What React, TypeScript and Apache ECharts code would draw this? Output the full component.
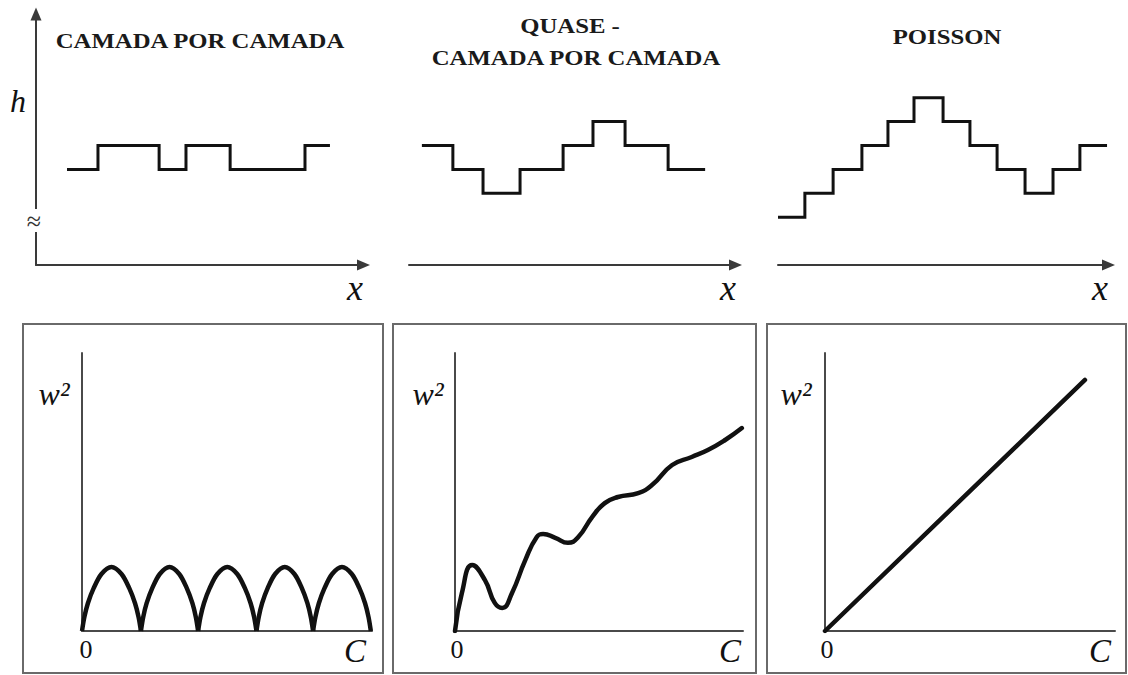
import React, { useEffect, useRef } from "react";
import * as echarts from "echarts";

// ---------- data ----------
const panelTitles = ["CAMADA POR CAMADA", "QUASE -", "CAMADA POR CAMADA", "POISSON"];
const topAxisNames = { height: "h", position: "x" };
const bottomAxisNames = { roughness: "w²", coverage: "C", origin: "0" };

// surface profiles: [x position (lattice units), height level]
const layerByLayerSteps = [
  [1.13, 2], [2.26, 3], [4.49, 2], [5.47, 3], [7.08, 2], [9.81, 3], [10.72, 3],
];
const quasiLayerSteps = [
  [0.47, 3], [1.6, 2], [2.7, 1], [4.05, 2], [5.62, 3], [6.71, 4], [7.88, 3], [9.45, 2], [10.8, 2],
];
const poissonSteps = [
  [0, 0], [0.98, 1], [2.01, 2], [3.06, 3], [4.01, 4], [4.96, 5], [6.02, 4],
  [7.0, 3], [7.99, 2], [9.01, 1], [10.03, 2], [11.01, 3], [12.0, 3],
];

// roughness w² vs coverage C
const archBounds = [0, 1.02, 2.01, 3.02, 4.0, 5.0];
const archProfile = [
  [0, 0], [0.04, 0.5], [0.1, 1.0], [0.2, 1.55], [0.33, 2.05], [0.5, 2.3],
  [0.67, 2.05], [0.8, 1.55], [0.9, 1.0], [0.96, 0.5], [1, 0],
];
const quasiRoughness = [
  [0, 0], [0.12, 1.37], [0.3, 2.37], [0.52, 1.83], [0.69, 1.01], [0.82, 0.83], [0.99, 1.37],
  [1.22, 2.55], [1.42, 3.38], [1.53, 3.49], [1.74, 3.35], [1.96, 3.17], [2.14, 3.38],
  [2.38, 4.1], [2.6, 4.6], [2.83, 4.82], [3.18, 4.96], [3.42, 5.25], [3.77, 5.97],
  [4.11, 6.26], [4.39, 6.51], [4.69, 6.87], [4.98, 7.3],
];
const poissonRoughness = [[0, 0], [4.5, 9.03]];

// ---------- layout / style ----------
const STEP_UNIT_PX = 27.42;
const LINE = "#111111";
const AXIS = "#3a3a3a";
const SERIF = '"Liberation Serif", "Times New Roman", serif';

const topGrids = [
  { left: 36, top: 14, width: 327.5, height: 251 },
  { left: 409, top: 14, width: 326.5, height: 251 },
  { left: 778, top: 14, width: 330.5, height: 251 },
];
const bottomGrids = [
  { left: 82, top: 353, width: 290, height: 278 },
  { left: 455, top: 353, width: 288, height: 278 },
  { left: 825, top: 353, width: 290, height: 278 },
];
const bottomXMax = [5.02, 5.0, 5.02];
const boxes = [
  { x: 23, y: 324, width: 360, height: 349 },
  { x: 393, y: 324, width: 363, height: 349 },
  { x: 767, y: 324, width: 359, height: 349 },
];

function txt(text: string, x: number, y: number, size: number, opts: any = {}) {
  return {
    type: "text",
    x,
    y,
    z: 20,
    scaleX: opts.scaleX ?? 1,
    silent: true,
    style: {
      text,
      fill: opts.fill ?? LINE,
      fontSize: size,
      fontFamily: opts.family ?? SERIF,
      fontStyle: opts.italic ? "italic" : "normal",
      fontWeight: opts.bold ? "bold" : "normal",
      align: opts.align ?? "center",
      verticalAlign: "middle",
      textAlign: opts.align ?? "center",
      textVerticalAlign: "middle",
    },
  };
}

function buildOption() {
  const grid: any[] = [];
  const xAxis: any[] = [];
  const yAxis: any[] = [];
  const series: any[] = [];

  const arrowLine = {
    show: true,
    onZero: false,
    symbol: ["none", "triangle"],
    symbolSize: [11, 13],
    lineStyle: { color: AXIS, width: 2 },
  };
  const plainLine = { show: true, onZero: false, lineStyle: { color: "#4a4a4a", width: 2 } };
  const hidden = { axisTick: { show: false }, axisLabel: { show: false }, splitLine: { show: false } };

  topGrids.forEach((g, i) => {
    grid.push({ ...g, containLabel: false });
    xAxis.push({
      gridIndex: i, type: "value", min: 0, max: g.width / STEP_UNIT_PX,
      axisLine: arrowLine, ...hidden,
    });
    yAxis.push({
      gridIndex: i, type: "value", min: -2, max: 8.5, show: i === 0,
      axisLine: arrowLine, ...hidden,
    });
  });
  bottomGrids.forEach((g, j) => {
    const i = j + 3;
    grid.push({ ...g, containLabel: false });
    xAxis.push({
      gridIndex: i, type: "value", min: 0, max: bottomXMax[j],
      axisLine: plainLine, ...hidden,
    });
    yAxis.push({
      gridIndex: i, type: "value", min: 0, max: 10,
      axisLine: plainLine, ...hidden,
    });
  });

  const stepStyle = { color: LINE, width: 3, join: "miter", cap: "butt" };
  [layerByLayerSteps, quasiLayerSteps, poissonSteps].forEach((d, i) => {
    series.push({
      type: "line", xAxisIndex: i, yAxisIndex: i, step: "end", data: d,
      symbol: "none", silent: true, lineStyle: stepStyle,
    });
  });

  const archStyle = { color: LINE, width: 4.5, join: "round", cap: "butt" };
  for (let k = 0; k < archBounds.length - 1; k++) {
    const a = archBounds[k];
    const w = archBounds[k + 1] - a;
    series.push({
      type: "line", xAxisIndex: 3, yAxisIndex: 3, smooth: 0.3,
      data: archProfile.map(([f, h]) => [a + f * w, h]),
      symbol: "none", silent: true, lineStyle: archStyle,
    });
  }
  const curveStyle = { color: LINE, width: 4.5, join: "round", cap: "round" };
  series.push({
    type: "line", xAxisIndex: 4, yAxisIndex: 4, smooth: 0.5, data: quasiRoughness,
    symbol: "none", silent: true, lineStyle: curveStyle,
  });
  series.push({
    type: "line", xAxisIndex: 5, yAxisIndex: 5, data: poissonRoughness,
    symbol: "none", silent: true, lineStyle: curveStyle,
  });

  const graphic: any[] = [];
  // boxes around the lower panels
  boxes.forEach((b) => {
    graphic.push({
      type: "rect", z: 1, silent: true, shape: b,
      style: { fill: "none", stroke: "#6a6a6a", lineWidth: 2 },
    });
  });
  // axis break on the h axis
  graphic.push({
    type: "rect", z: 15, silent: true,
    shape: { x: 28, y: 209, width: 14, height: 23 },
    style: { fill: "#ffffff", stroke: "none" },
  });
  graphic.push(txt("≈", 34, 221, 26, { fill: "#333" }));

  // titles
  const TS = 1.125;
  graphic.push(txt(panelTitles[0], 200, 40, 22, { bold: true, scaleX: TS, fill: "#1a1a1a" }));
  graphic.push(txt(panelTitles[1], 570, 25, 22, { bold: true, scaleX: TS, fill: "#1a1a1a" }));
  graphic.push(txt(panelTitles[2], 576, 57, 22, { bold: true, scaleX: TS, fill: "#1a1a1a" }));
  graphic.push(txt(panelTitles[3], 947, 36, 22, { bold: true, scaleX: TS, fill: "#1a1a1a" }));

  // axis names, top row
  graphic.push(txt(topAxisNames.height, 18, 101, 32, { italic: true }));
  [355, 728, 1100].forEach((x) => graphic.push(txt(topAxisNames.position, x, 288, 36, { italic: true })));

  // axis names, bottom row
  [54, 428, 796].forEach((x) => graphic.push(txt(bottomAxisNames.roughness, x, 394, 32, { italic: true })));
  [86, 457, 827].forEach((x) => graphic.push(txt(bottomAxisNames.origin, x, 649, 26)));
  [355, 730, 1100].forEach((x) => graphic.push(txt(bottomAxisNames.coverage, x, 651, 33, { italic: true })));

  return {
    animation: false,
    backgroundColor: "#ffffff",
    grid,
    xAxis,
    yAxis,
    series,
    graphic,
  };
}

export default function App() {
  const ref = useRef<HTMLDivElement>(null);
  useEffect(() => {
    document.body.style.margin = "0";
    if (!ref.current) return;
    const chart = echarts.init(ref.current, undefined, { renderer: "svg" });
    chart.setOption(buildOption() as any);
    return () => chart.dispose();
  }, []);
  return (
    <div
      ref={ref}
      style={{ position: "fixed", left: 0, top: 0, width: 1128, height: 675, background: "#fff" }}
    />
  );
}
